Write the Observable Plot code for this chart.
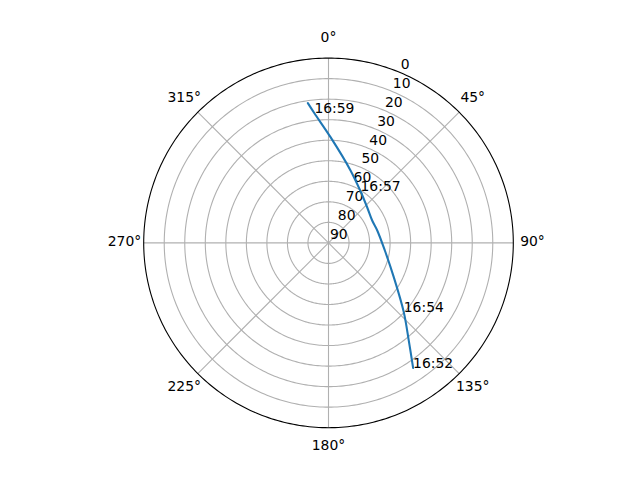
<!DOCTYPE html>
<html>
<head>
<meta charset="utf-8">
<script src="https://cdn.jsdelivr.net/npm/d3@7"></script>
<script src="https://cdn.jsdelivr.net/npm/@observablehq/plot@0.6"></script>
<style>
  html, body { margin: 0; padding: 0; background: #fff; }
  #chart { width: 640px; height: 480px; }
</style>
</head>
<body>
<div id="chart"></div>
<script>
// Satellite track (chronological, 16:52 -> 16:59)
const azimuth   = [145.9, 140.6, 132.6, 117.7, 97.7, 75.7, 62.9, 47.3, 31.8, 16.9, 1.1, 353.8, 351.6];
const elevation = [16.5, 28.4, 40.2, 54.1, 62.3, 65.5, 66.1, 64.4, 60.4, 53.1, 38.5, 26.5, 21.2];

// Time annotations
const labelTimes = ["16:52", "16:54", "16:57", "16:59"];
const labelAz    = [145.9, 132.6, 31.8, 353.8];
const labelEl    = [16.5, 40.2, 60.4, 26.5];

// Axis ticks
const angleTicks = [0, 45, 90, 135, 180, 225, 270, 315];
const radialTicks = [0, 10, 20, 30, 40, 50, 60, 70, 80, 90];
const rLabelAngle = 22.5;

const rad = d => d * Math.PI / 180;
const px = (az, el) => (90 - el) * Math.sin(rad(az));
const py = (az, el) => (90 - el) * Math.cos(rad(az));

const track = azimuth.map((a, i) => ({x: px(a, elevation[i]), y: py(a, elevation[i])}));
const labels = labelTimes.map((t, i) => ({t, x: px(labelAz[i], labelEl[i]), y: py(labelAz[i], labelEl[i])}));

// grid rings (elevation 10..80) and outer boundary
const ringPts = [];
for (const v of radialTicks.filter(v => v > 0 && v < 90)) {
  for (let a = 0; a <= 360; a += 1) ringPts.push({v, x: px(a, v), y: py(a, v)});
}
const outerPts = [];
for (let a = 0; a <= 360; a += 1) outerPts.push({x: px(a, 0), y: py(a, 0)});
const spokes = angleTicks.map(a => ({x1: 0, y1: 0, x2: px(a, 0), y2: py(a, 0)}));
const angleLabels = angleTicks.map(a => ({t: a + "°", x: 99.35 * Math.sin(rad(a)), y: 99.35 * Math.cos(rad(a))}));
const rLabels = radialTicks.map(v => ({t: String(v), x: px(rLabelAngle, v), y: py(rLabelAngle, v)}));

const W = 640, H = 480, cx = 328, cy = 242.4, R = 184.8;
const font = "DejaVu Sans, sans-serif";

const chart = Plot.plot({
  width: W,
  height: H,
  marginLeft: cx - R,
  marginRight: W - (cx + R),
  marginTop: cy - R,
  marginBottom: H - (cy + R),
  x: {domain: [-90, 90], axis: null},
  y: {domain: [-90, 90], axis: null},
  style: {fontFamily: font, fontSize: "13.9px", background: "#fff", overflow: "visible"},
  marks: [
    Plot.line(ringPts, {x: "x", y: "y", z: "v", stroke: "#b0b0b0", strokeWidth: 1.1}),
    Plot.link(spokes, {x1: "x1", y1: "y1", x2: "x2", y2: "y2", stroke: "#b0b0b0", strokeWidth: 1.1}),
    Plot.line(outerPts, {x: "x", y: "y", stroke: "#000", strokeWidth: 1.1}),
    Plot.text(rLabels, {x: "x", y: "y", text: "t", textAnchor: "start", dx: 1.5, dy: -8, fill: "#000", fontSize: 13.9}),
    Plot.text(angleLabels, {x: "x", y: "y", text: "t", textAnchor: "middle", dy: -1, fill: "#000", fontSize: 13.9}),
    Plot.line(track, {x: "x", y: "y", stroke: "#1f77b4", strokeWidth: 2.08, curve: "catmull-rom"}),
    Plot.text(labels, {x: "x", y: "y", text: "t", textAnchor: "start", lineAnchor: "bottom", fill: "#000", fontSize: 13.9})
  ]
});
document.getElementById("chart").appendChild(chart);
</script>
</body>
</html>
